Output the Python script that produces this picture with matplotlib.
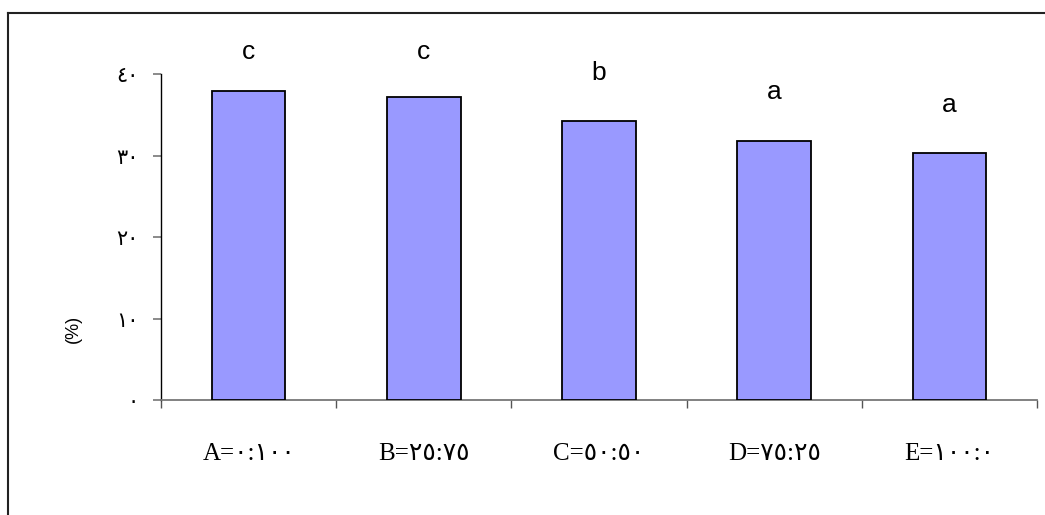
import matplotlib
matplotlib.use('Agg')
import matplotlib.pyplot as plt
from matplotlib.lines import Line2D
import numpy as np

categories = ['A=٠:١٠٠', 'B=٢٥:٧٥', 'C=٥٠:٥٠', 'D=٧٥:٢٥', 'E=١٠٠:٠']
values = [37.9, 37.2, 34.2, 31.8, 30.3]
letters = ['c', 'c', 'b', 'a', 'a']
letter_y = [41.8, 41.8, 39.3, 36.9, 35.3]
yticks = [0, 10, 20, 30, 40]
ytick_labels = ['٠', '١٠', '٢٠', '٣٠', '٤٠']

fig = plt.figure(figsize=(10.45, 5.15), dpi=100, facecolor='white')
ax = fig.add_axes([0.1541, 0.2233, 0.8382, 0.6330])

x = np.arange(len(categories))
ax.bar(x, values, width=0.42, color='#9999FF', edgecolor='black', lw=1.3, zorder=3)

for xi, lab, ly in zip(x, letters, letter_y):
    ax.text(xi, ly, lab, ha='center', va='baseline', fontsize=19,
            family='Liberation Sans', clip_on=False)

ax.set_xlim(-0.5, 4.5)
ax.set_ylim(0, 40)

ax.set_xticks(x)
ax.set_xticklabels(categories, family=['Liberation Serif', 'DejaVu Sans'], fontsize=18)
ax.set_xticks(np.arange(-0.5, 5, 1), minor=True)
ax.tick_params(axis='x', which='major', length=0, pad=31)
ax.tick_params(axis='x', which='minor', length=6, color='#555555', width=1, direction='out')

ax.set_yticks(yticks)
ax.set_yticklabels(ytick_labels, family=['DejaVu Sans'], fontsize=15)
ax.tick_params(axis='y', length=6, color='#777777', width=1.2, pad=10)

for s in ['top', 'right']:
    ax.spines[s].set_visible(False)
ax.spines['left'].set_color('black')
ax.spines['left'].set_linewidth(1)
ax.spines['bottom'].set_color('#777777')
ax.spines['bottom'].set_linewidth(1.3)

ax.set_ylabel('(%)', fontsize=13, family='Liberation Sans')
ax.yaxis.set_label_coords(-0.09, 0.218)

# outer frame (only top and left edges visible)
fig.add_artist(Line2D([8 / 1045, 1.0], [1 - 13 / 515, 1 - 13 / 515],
                      transform=fig.transFigure, color='#222222', lw=1.5))
fig.add_artist(Line2D([8 / 1045, 8 / 1045], [1 - 13 / 515, 0.0],
                      transform=fig.transFigure, color='#222222', lw=1.5))

fig.savefig('out.png', dpi=100, facecolor='white')
